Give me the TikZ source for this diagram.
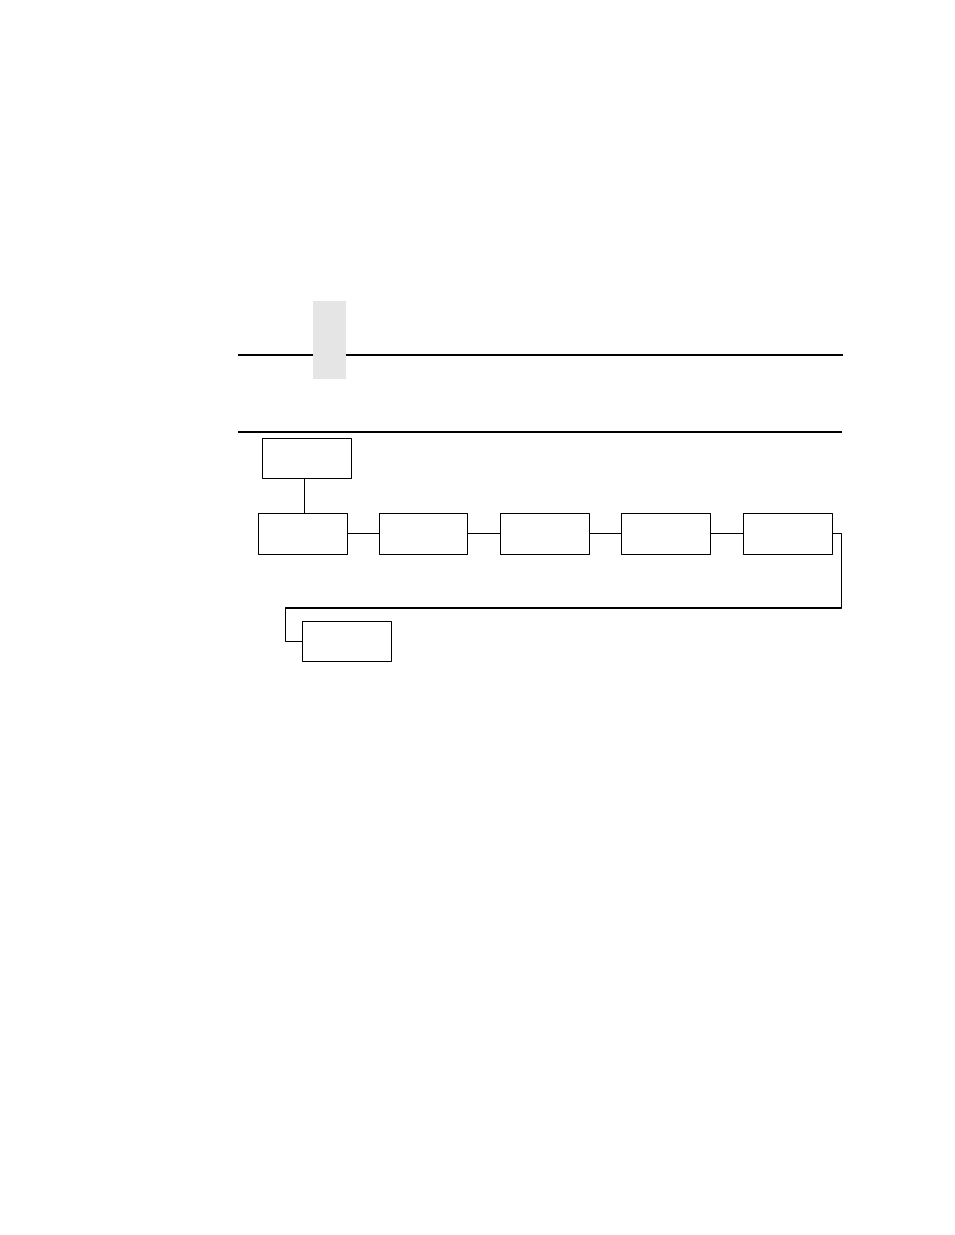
\documentclass[tikz,border=0pt]{standalone}
\begin{document}
\begin{tikzpicture}[x=.75pt,y=-.75pt,line join=round,
  menubox/.style={draw,line width=.8pt,minimum width=66.5pt,minimum height=30.5pt,inner sep=0pt}]
\useasboundingbox (0,0) rectangle (954,1235);
\draw[line width=1.2pt] (238,355)--(843,355);
\fill[black!10] (313,301) rectangle (346,379);
\draw[line width=.8pt] (238,432)--(842,432);
\node[menubox] (top) at (306.7,458.6) {};
\node[menubox] (m1) at (302.8,533.7) {};
\node[menubox] (m2) at (423.5,533.7) {};
\node[menubox] (m3) at (545,533.7) {};
\node[menubox] (m4) at (666,533.7) {};
\node[menubox] (m5) at (787.7,533.7) {};
\node[menubox] (m6) at (347,641.5) {};
\coordinate (j) at (304.3,0);
\coordinate (r1) at (841.5,608);
\coordinate (r2) at (285.5,608);
\draw[line width=.8pt] (top.south-|j)--(m1.north-|j) (m1)--(m2) (m2)--(m3) (m3)--(m4) (m4)--(m5);
\draw[line width=.8pt] (m5.east)-|(r1)--(r2)|-(m6.west);
\end{tikzpicture}
\end{document}
